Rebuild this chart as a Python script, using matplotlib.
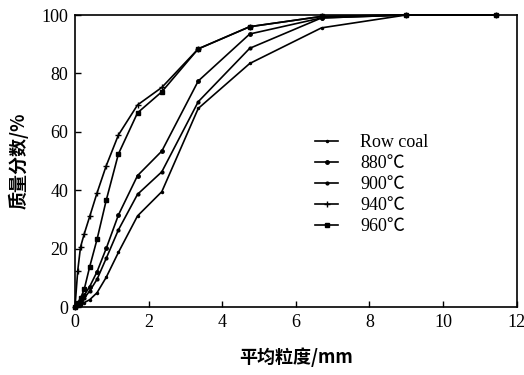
import matplotlib
matplotlib.use("Agg")
import matplotlib.pyplot as plt

x_size = [0, 0.075, 0.15, 0.25, 0.4, 0.6, 0.85, 1.18, 1.7, 2.36, 3.35, 4.75, 6.7, 9.0, 11.45]

series_labels = ["Row coal", "880℃", "900℃", "940℃", "960℃"]
raw_coal = [0, 0.3, 0.8, 1.5, 2.5, 4.9, 10.2, 18.7, 31.2, 39.5, 68.0, 83.4, 95.6, 100, 100]
t880 = [0, 0.8, 2.0, 4.0, 7.0, 12.1, 20.1, 31.5, 45.0, 53.4, 77.4, 93.5, 99.0, 100, 100]
t900 = [0, 0.6, 1.5, 3.0, 5.5, 9.5, 16.7, 26.4, 38.6, 46.3, 70.3, 88.6, 99.0, 100, 100]
t940 = [0, 12.5, 20.5, 25.0, 31.0, 39.1, 48.4, 58.9, 69.2, 75.2, 88.4, 96.0, 99.5, 100, 100]
t960 = [0, 1.5, 3.0, 6.0, 13.8, 23.2, 36.6, 52.4, 66.5, 73.7, 88.4, 96.0, 99.5, 100, 100]

x_ticks = [0, 2, 4, 6, 8, 10, 12]
y_ticks = [0, 20, 40, 60, 80, 100]

serif = ["Liberation Serif", "Noto Sans CJK SC"]
plt.rcParams["font.family"] = serif

fig = plt.figure(figsize=(5.24, 3.75), dpi=100)
ax = fig.add_axes([0.1431, 0.1813, 0.8426, 0.7787])

styles = [
    (raw_coal, dict(marker=".", ms=3)),
    (t880, dict(marker="o", ms=2.5)),
    (t900, dict(marker="o", ms=2)),
    (t940, dict(marker="+", ms=4, mew=1)),
    (t960, dict(marker="s", ms=3)),
]
for (vals, st), lab in zip(styles, series_labels):
    ax.plot(x_size, vals, color="black", lw=1.2, label=lab, clip_on=False, **st)

ax.set_xlim(0, 12)
ax.set_ylim(0, 100)
ax.set_xticks(x_ticks)
ax.set_yticks(y_ticks)
ax.tick_params(direction="in", length=4, labelsize=13, width=1, pad=5)
for s in ax.spines.values():
    s.set_linewidth(1.2)

ax.set_xlabel("平均粒度/mm", fontsize=13, family=["Noto Sans CJK SC"],
              fontweight="bold", labelpad=12)
ax.set_ylabel("质量分数/%", fontsize=13, family=["Noto Sans CJK SC"],
              fontweight="bold", labelpad=9)

leg = ax.legend(loc="upper left", bbox_to_anchor=(0.515, 0.635), frameon=False,
                fontsize=13, handlelength=1.3, handletextpad=1.2,
                labelspacing=0.22, borderpad=0.2)

fig.savefig("out.png", dpi=100)
